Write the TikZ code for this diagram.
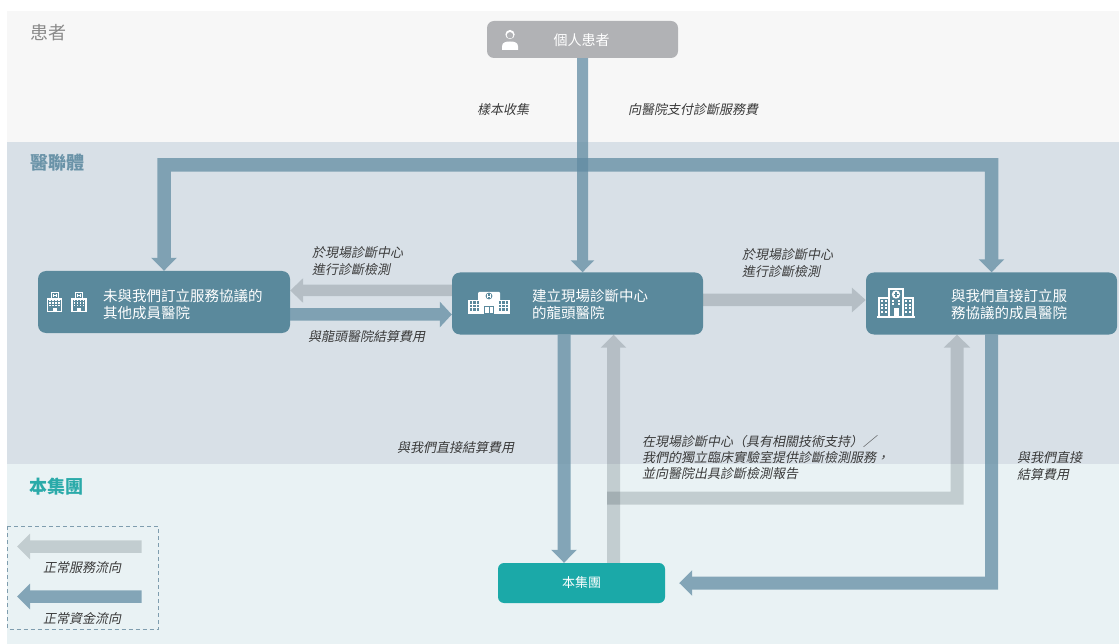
\documentclass[tikz,border=0pt]{standalone}
\usepackage{fontspec}
\setmainfont{Noto Sans CJK TC}
\newfontfamily\cjkit[FakeSlant=0.2]{Noto Sans CJK TC}
\usetikzlibrary{arrows.meta}
\definecolor{bandA}{HTML}{F7F7F7}
\definecolor{bandB}{HTML}{D8E0E7}
\definecolor{bandC}{HTML}{E9F2F4}
\definecolor{hospc}{HTML}{5A899C}
\definecolor{patc}{HTML}{B1B2B5}
\definecolor{grpc}{HTML}{1BA9A8}
\definecolor{moneyc}{HTML}{608BA2}
\definecolor{servc}{HTML}{2A3A40}
\definecolor{labc}{HTML}{3A3A3A}
\definecolor{legc}{HTML}{7F9DAE}
\definecolor{bandlabA}{HTML}{8A8A8A}
\definecolor{bandlabB}{HTML}{6A93A8}
\definecolor{bandlabC}{HTML}{2AAAA9}
\begin{document}
\begin{tikzpicture}[x=1pt,y=-1pt,
  hosp/.style={fill=hospc, rounded corners=8pt, minimum width=251pt, minimum height=62pt, inner sep=0pt},
  ntext/.style={font=\fontsize{14.5}{17}\selectfont, text=white, align=left, inner sep=0pt, anchor=west},
  lab/.style={font=\cjkit\fontsize{13}{17}\selectfont, text=labc, align=left, inner sep=0pt, anchor=west},
  bandlab/.style={font=\fontsize{18}{20}\selectfont, inner sep=0pt, anchor=west},
  money/.style={draw=moneyc, line width=13.5pt, line cap=butt, line join=miter},
  serv/.style={draw=servc, line width=12.5pt, line cap=butt, line join=miter},
  mgrp/.style={transparency group, opacity=0.74},
  sgrp/.style={transparency group, opacity=0.2},
  mtip/.style={-{Triangle[width=25pt,length=13pt]}},
  bldS/.pic={
    \draw[white, line width=1pt] (-3.5,-13) rectangle (3.5,-19.5);
    \draw[white, line width=0.6pt] (-1.5,-18) -- (-1.5,-14.5) (1.5,-18) -- (1.5,-14.5) (-1.5,-16.2) -- (1.5,-16.2);
    \draw[white, line width=1.2pt] (-7,-0.6) rectangle (7,-13);
    \foreach \yy in {-11.5,-9,-6.5}{\foreach \xx in {-4.5,-1.5,1.5,4.5}{\fill[white] (\xx-0.75,\yy-0.75) rectangle (\xx+0.75,\yy+0.75);}}
    \fill[white] (-2,0) rectangle (2,-4);
  },
  bldM/.pic={
    \fill[white] (-21,0) rectangle (21,-14);
    \fill[white, rounded corners=1pt] (-11,-13) rectangle (11,-22);
    \fill[hospc] (0,-18) circle (3.4pt);
    \draw[white, line width=0.6pt] (-1.3,-20) -- (-1.3,-16) (1.3,-20) -- (1.3,-16) (-1.3,-18) -- (1.3,-18);
    \foreach \yy in {-11.5,-8,-4.5}{\foreach \xx in {-18,-14.5,-11,11,14.5,18}{\fill[hospc] (\xx-1.2,\yy-1.2) rectangle (\xx+1.2,\yy+1.2);}}
    \fill[hospc] (-5,0) rectangle (5,-8);
    \fill[white] (-3.8,-1) rectangle (3.8,-7);
    \fill[hospc] (-0.3,-1) rectangle (0.3,-7);
  },
  bldL/.pic={
    \fill[white] (-19,0) rectangle (19,-1.6);
    \draw[white, line width=1.4pt] (-7,-1) rectangle (7,-29);
    \draw[white, line width=1.2pt] (-17,-1) rectangle (-7,-20);
    \draw[white, line width=1.2pt] (7,-1) rectangle (17,-20);
    \fill[white] (0,-23.5) circle (4.2pt);
    \draw[hospc, line width=1.2pt] (0,-26) -- (0,-21) (-2.5,-23.5) -- (2.5,-23.5);
    \foreach \yy in {-16.5,-13,-9.5,-6}{\foreach \xx in {-14,-10,10,14}{\fill[white] (\xx-1,\yy-1) rectangle (\xx+1,\yy+1);}}
    \foreach \yy in {-17,-13.5}{\foreach \xx in {-3,3}{\fill[white] (\xx-1,\yy-1) rectangle (\xx+1,\yy+1);}}
    \fill[white] (-2.5,-1) rectangle (2.5,-10);
  }
]
\useasboundingbox (0,0) rectangle (1119,644);
\fill[white] (0,0) rectangle (1119,644);
\fill[bandA] (7,11) rectangle (1119,142);
\fill[bandB] (7,142) rectangle (1119,464);
\fill[bandC] (7,464) rectangle (1119,644);

% band labels
\node[bandlab, text=bandlabA] (tA) at (30,33) {患者};
\node[bandlab, text=bandlabB] (tB) at (30,163) {\bfseries 醫聯體};
\node[bandlab, text=bandlabC] (tC) at (29,487) {\bfseries 本集團};

% nodes
\node[fill=patc, rounded corners=7pt, minimum width=191pt, minimum height=37pt, inner sep=0pt] (patient) at (582.5,39.5) {};
\node[font=\fontsize{14}{16}\selectfont, text=white, inner sep=0pt] (patientT) at (581.5,40) {個人患者};
\node[hosp, minimum width=252pt] (left) at (164,302) {};
\node[hosp] (centre) at (577.5,303.5) {};
\node[hosp] (right) at (991.5,303.5) {};
\node[fill=grpc, rounded corners=6pt, minimum width=167pt, minimum height=40pt, inner sep=0pt, font=\fontsize{13}{15}\selectfont, text=white] (group) at (581.5,583) {本集團};

\node[ntext] (leftT) at (103,304) {未與我們訂立服務協議的\\其他成員醫院};
\node[ntext] (centreT) at (532,304.5) {建立現場診斷中心\\的龍頭醫院};
\node[ntext] (rightT) at (951,304.5) {與我們直接訂立服\\務協議的成員醫院};

% icons
\fill[white] (510,34.5) circle (4.6pt);
\fill[patc] (510,35.3) circle (3.2pt);
\fill[white] (502,50) -- (502,46.5) .. controls (502,42.5) and (505.5,41.5) .. (510,41.5) .. controls (514.5,41.5) and (518,42.5) .. (518,46.5) -- (518,50) -- cycle;
\pic at (54.5,312) {bldS};
\pic at (79,312) {bldS};
\pic at (489,314) {bldM};
\pic at (896,318) {bldL};

% coordinates
\coordinate (bus) at (582,165);
\coordinate (ya) at (0,290.5);
\coordinate (yb) at (0,314.5);
\coordinate (yc) at (0,300);
\coordinate (xa) at (564,0);
\coordinate (xb) at (613.5,0);
\coordinate (xd) at (607,0);
\coordinate (xc) at (957,0);
\coordinate (yh) at (0,498);

% money flows
\begin{scope}[mgrp]
\draw[money, {Triangle[width=25pt,length=13pt]}-{Triangle[width=25pt,length=13pt]}] (left.north) -- (left.north |- bus) -- (right.north |- bus) -- (right.north);
\end{scope}
\begin{scope}[mgrp]
\draw[money, line width=11pt, -{Triangle[width=23pt,length=12pt]}] (patient.south) -- (patient.south |- centre.north);
\end{scope}
\begin{scope}[mgrp]
\draw[money, line width=12.5pt, -{Triangle[width=25pt,length=12pt]}] (left.east |- yb) -- (centre.west |- yb);
\end{scope}
\begin{scope}[mgrp]
\draw[money, line width=13pt, mtip] (xa |- centre.south) -- (xa |- group.north);
\end{scope}
\begin{scope}[mgrp]
\draw[money, line width=13pt, mtip, shorten >=14pt] (right.south) -- (right.south |- group.east) -- (group.east);
\end{scope}

% service flows
\begin{scope}[sgrp]
\draw[serv, line width=11.5pt, -{Triangle[width=24pt,length=13pt]}] (centre.west |- ya) -- (left.east |- ya);
\end{scope}
\begin{scope}[sgrp]
\draw[serv, -{Triangle[width=24pt,length=14pt]}] (centre.east |- yc) -- (right.west |- yc);
\end{scope}
\begin{scope}[sgrp]
\draw[serv, line width=13pt, -{Triangle[width=25pt,length=13pt]}] (xb |- group.north) -- (xb |- centre.south);
\end{scope}
\begin{scope}[sgrp]
\draw[serv, line width=13pt, -{Triangle[width=26pt,length=13pt]}] (xd |- yh) -- (xc |- yh) -- (xc |- right.south);
\end{scope}

% labels
\node[lab] (l1) at (477,110) {樣本收集};
\node[lab] (l2) at (628,110) {向醫院支付診斷服務費};
\node[lab] (l3) at (312,261.5) {於現場診斷中心\\進行診斷檢測};
\node[lab] (l4) at (742,263) {於現場診斷中心\\進行診斷檢測};
\node[lab] (l5) at (308,337) {與龍頭醫院結算費用};
\node[lab] (l6) at (397,448) {與我們直接結算費用};
\node[lab, font=\cjkit\fontsize{13}{16}\selectfont] (l7) at (642,458) {在現場診斷中心（具有相關技術支持）／\\我們的獨立臨床實驗室提供診斷檢測服務，\\並向醫院出具診斷檢測報告};
\node[lab] (l8) at (1017,466.5) {與我們直接\\結算費用};

% legend
\draw[legc, line width=1pt, dash pattern=on 4pt off 3pt] (7.5,526) rectangle (158,629);
\coordinate (lg1a) at (141.5,546.5);
\coordinate (lg1b) at (17,546.5);
\coordinate (lg2a) at (141.5,596.5);
\coordinate (lg2b) at (17,596.5);
\begin{scope}[sgrp]
\draw[serv, line width=12.5pt, -{Triangle[width=25pt,length=13pt]}] (lg1a) -- (lg1b);
\end{scope}
\begin{scope}[mgrp]
\draw[money, line width=12.5pt, -{Triangle[width=25pt,length=13pt]}] (lg2a) -- (lg2b);
\end{scope}
\node[lab, anchor=center] (lg1t) at (82,568) {正常服務流向};
\node[lab, anchor=center] (lg2t) at (82,618) {正常資金流向};
\end{tikzpicture}
\end{document}
